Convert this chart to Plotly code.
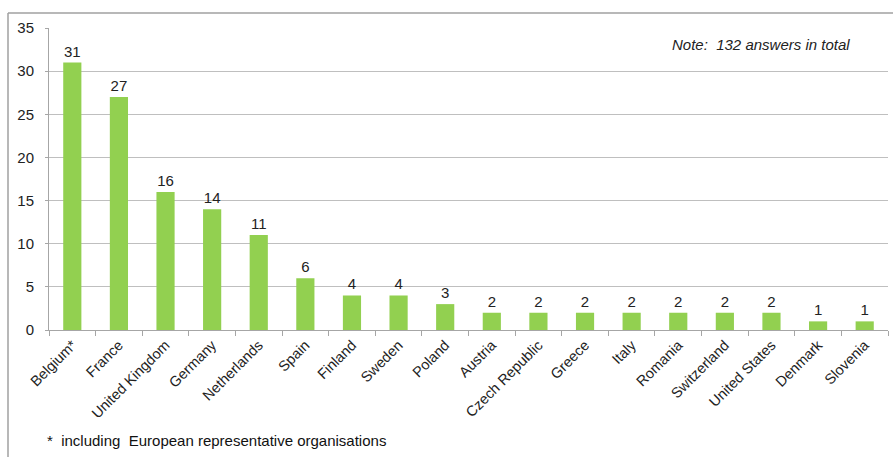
import plotly.graph_objects as go

countries = ["Belgium*", "France", "United Kingdom", "Germany", "Netherlands", "Spain",
             "Finland", "Sweden", "Poland", "Austria", "Czech Republic", "Greece", "Italy",
             "Romania", "Switzerland", "United States", "Denmark", "Slovenia"]
answers = [31, 27, 16, 14, 11, 6, 4, 4, 3, 2, 2, 2, 2, 2, 2, 2, 1, 1]
y_ticks = [0, 5, 10, 15, 20, 25, 30, 35]

W, H = 893, 457
L, R, T, B = 49, 5, 28, 127
pw = W - L - R
ph = H - T - B

fig = go.Figure(go.Bar(
    x=countries, y=answers,
    marker=dict(color="#92D050", line=dict(width=0)),
    text=[str(v) for v in answers], textposition="outside",
    textfont=dict(family="Liberation Sans, Arial", size=15, color="#222222"),
    cliponaxis=False, width=0.39,
))

fig.update_layout(
    width=W, height=H,
    margin=dict(l=L, r=R, t=T, b=B),
    paper_bgcolor="white", plot_bgcolor="white",
    showlegend=False,
    font=dict(family="Liberation Sans, Arial", size=15, color="#222222"),
    xaxis=dict(
        tickangle=-45, tickfont=dict(size=14.5, color="#222222"),
        showline=True, linecolor="#A6A6A6", linewidth=1,
        ticks="outside", tickson="boundaries", ticklen=5, tickcolor="#A6A6A6",
        showgrid=False, range=[-0.5, len(countries) - 0.5],
    ),
    yaxis=dict(
        range=[0, 35], tickvals=y_ticks, showgrid=True, gridcolor="#BFBFBF", gridwidth=1,
        showline=True, linecolor="#A6A6A6", linewidth=1,
        ticks="outside", ticklen=3, tickcolor="#A6A6A6",
        tickfont=dict(size=15, color="#222222"), zeroline=False,
        ticklabelstandoff=8,
    ),
    annotations=[
        dict(text="<i>Note:  132 answers in total</i>", xref="paper", yref="paper",
             x=(761 - L) / pw, y=1 - (45 - T) / ph, showarrow=False,
             xanchor="center", yanchor="middle",
             font=dict(size=15, color="#222222")),
        dict(text="*  including  European representative organisations", xref="paper", yref="paper",
             x=(45 - L) / pw, y=1 - (440 - T) / ph, showarrow=False,
             xanchor="left", yanchor="middle",
             font=dict(size=15, color="#111111")),
    ],
    shapes=[
        dict(type="line", xref="paper", yref="paper",
             x0=(8 - L) / pw, x1=(W - L + 5) / pw,
             y0=1 + (T - 13) / ph, y1=1 + (T - 13) / ph,
             line=dict(color="#A0A0A0", width=1.5)),
        dict(type="line", xref="paper", yref="paper",
             x0=(8 - L) / pw, x1=(8 - L) / pw,
             y0=1 + (T - 13) / ph, y1=-(B + 5) / ph,
             line=dict(color="#A0A0A0", width=1.5)),
    ],
)

fig.write_html("out.html")
